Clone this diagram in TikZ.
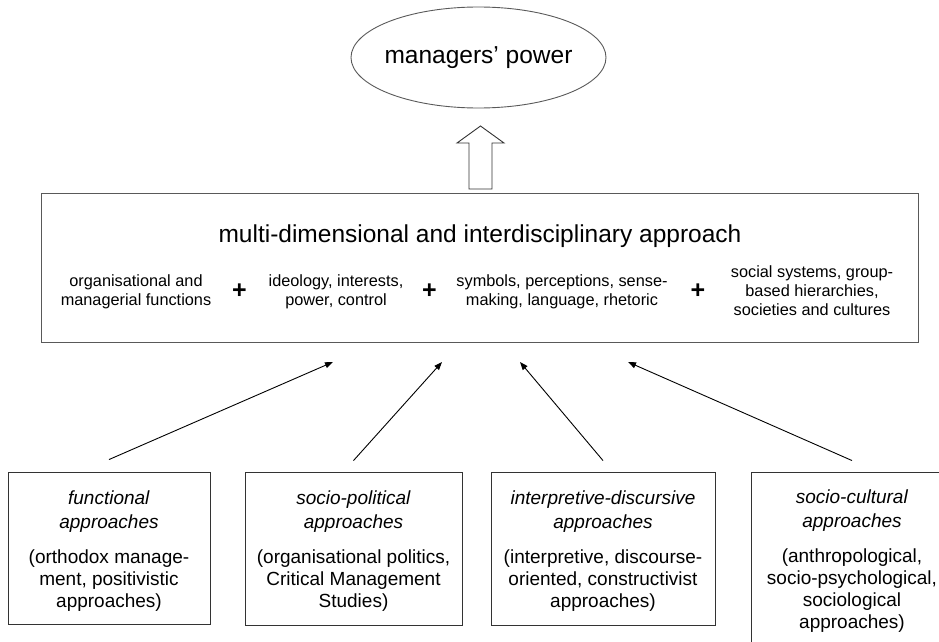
\documentclass[tikz,border=0pt]{standalone}
\usepackage{fontspec}
\setmainfont{Liberation Sans}
\usetikzlibrary{arrows.meta,shapes.geometric}
\definecolor{linegray}{gray}{0.35}
\newcommand{\topstrut}{\rule{0pt}{19pt}}
\begin{document}
\begin{tikzpicture}[x=1pt,y=-1pt,
  frame/.style={draw=linegray,line width=0.9pt,inner sep=0pt},
  small/.style={font=\fontsize{16.3}{19}\selectfont,align=center,inner sep=0pt},
  plussign/.style={font=\fontsize{25}{25}\selectfont\bfseries,inner sep=0pt},
  bbox/.style={draw=black!80,line width=0.9pt,align=center,inner sep=0pt,
    font=\fontsize{19}{22}\selectfont},
  conn/.style={draw=black,line width=0.9pt,-{Triangle[length=8pt,width=6pt]}}]
\useasboundingbox (0,0) rectangle (939,642);
\clip (0,0) rectangle (939,642);
% top ellipse
\node[frame,ellipse,minimum width=255pt,minimum height=101pt,
  font=\fontsize{24.5}{28}\selectfont] (power) at (478.5,57.5) {\makebox[170pt]{managers’ power}};
% block arrow
\draw[draw=black!80,line width=0.9pt,fill=white]
  (469,189) -- (469,143) -- (457,143) -- (480.5,126) -- (504,143) -- (492,143) -- (492,189) -- cycle;
% big box
\node[frame,minimum width=877pt,minimum height=149pt] (big) at (479.5,267.5) {};
\node[font=\fontsize{24.5}{28}\selectfont,inner sep=0pt] (title) at (480,236) {multi-dimensional and interdisciplinary approach};
\node[small] (i1) at (136,292) {organisational and\\managerial functions};
\node[plussign] (p1) at (239.5,291) {+};
\node[small] (i2) at (336,292) {ideology, interests,\\power, control};
\node[plussign] (p2) at (429.5,291) {+};
\node[small] (i3) at (562,292) {symbols, perceptions, sense-\\making, language, rhetoric};
\node[plussign] (p3) at (698,291) {+};
\node[small] (i4) at (812,291) {social systems, group-\\based hierarchies,\\societies and cultures};
% bottom boxes
\node[bbox,minimum width=202pt,minimum height=152pt] (b1) at (109,548)
  {\topstrut\textit{functional}\\[2pt]\textit{approaches}\\[13pt](orthodox manage-\\ment, positivistic\\approaches)};
\node[bbox,minimum width=217pt,minimum height=153pt] (b2) at (353.5,548.5)
  {\topstrut\textit{socio-political}\\[2pt]\textit{approaches}\\[13pt](organisational politics,\\Critical Management\\Studies)};
\node[bbox,minimum width=224pt,minimum height=153pt] (b3) at (603,548.5)
  {\topstrut\textit{interpretive-discursive}\\[2pt]\textit{approaches}\\[13pt](interpretive, discourse-\\oriented, constructivist\\approaches)};
\node[bbox,minimum width=202pt,minimum height=172pt] (b4) at (852,558)
  {\topstrut\textit{socio-cultural}\\[2pt]\textit{approaches}\\[13pt](anthropological,\\socio-psychological,\\sociological\\approaches)};
% arrow end points
\coordinate (e1) at (333,362);
\coordinate (e2) at (442,362);
\coordinate (e3) at (520,362);
\coordinate (e4) at (628,362);
\draw[conn] ([yshift=12pt]b1.north) -- (e1);
\draw[conn] ([yshift=11pt]b2.north) -- (e2);
\draw[conn] ([yshift=11pt]b3.north) -- (e3);
\draw[conn] ([yshift=11pt]b4.north) -- (e4);
\end{tikzpicture}
\end{document}
